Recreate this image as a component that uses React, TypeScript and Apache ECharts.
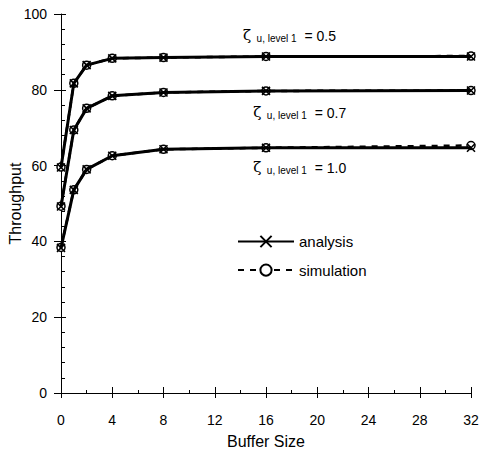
import React, { useEffect, useRef } from "react";
import * as echarts from "echarts";

const bufferSizes = [0, 1, 2, 4, 8, 16, 32];

const analysis05 = [59.5, 81.7, 86.5, 88.3, 88.5, 88.8, 88.8];
const analysis07 = [49.2, 69.4, 75.1, 78.4, 79.3, 79.7, 79.8];
const analysis10 = [38.3, 53.6, 59.0, 62.6, 64.3, 64.7, 64.7];

const simulation05 = [59.6, 81.7, 86.5, 88.3, 88.5, 88.8, 88.9];
const simulation07 = [49.3, 69.4, 75.1, 78.4, 79.3, 79.7, 79.8];
const simulation10 = [38.4, 53.6, 59.0, 62.6, 64.3, 64.7, 65.3];

const zetaValues = ["0.5", "0.7", "1.0"];

const FONT = "Liberation Sans, Arial, sans-serif";
const CROSS = "path://M0,0L10,10M10,0L0,10";
const RING = "path://M0,5A5,5 0 1,1 10,5A5,5 0 1,1 0,5Z";

function pairs(vals: number[]) {
  return bufferSizes.map((x, i) => [x, vals[i]]);
}

export default function App() {
  const ref = useRef<HTMLDivElement>(null);
  useEffect(() => {
    if (!ref.current) return;
    const chart = echarts.init(ref.current, undefined, { renderer: "svg" });

    const labelAnchors = [
      [14.2, 94.2],
      [15.0, 74.0],
      [15.0, 59.4],
    ];

    const richLabel = (z: string) => ({
      show: true,
      position: "inside",
      align: "left",
      verticalAlign: "middle",
      formatter: `{z|ζ}{s|  u, level 1}{n|  = ${z}}`,
      rich: {
        z: { fontSize: 15, fontFamily: "DejaVu Serif, serif", color: "#000", padding: [0, 0, 2, 0] },
        s: { fontSize: 10, fontFamily: FONT, color: "#000", padding: [5, 0, 0, 0] },
        n: { fontSize: 14, fontFamily: FONT, color: "#000" },
      },
    });

    const simSeries = [simulation05, simulation07, simulation10].map((d) => ({
      type: "line",
      name: "simulation",
      data: pairs(d),
      symbol: RING,
      symbolSize: 8,
      lineStyle: { color: "#000", width: 2.5, type: [6, 6] },
      itemStyle: { color: "#fff", borderColor: "#000", borderWidth: 1.5 },
      z: 2,
    }));

    const anaSeries = [analysis05, analysis07, analysis10].map((d, i) => ({
      type: "line",
      name: "analysis",
      data: pairs(d),
      symbol: CROSS,
      symbolSize: 8,
      lineStyle: { color: "#000", width: 3 },
      itemStyle: { color: "#000", borderColor: "#000", borderWidth: 1.6 },
      z: 3,
      markPoint: {
        symbol: "circle",
        symbolSize: 0,
        silent: true,
        data: [{ coord: labelAnchors[i], label: richLabel(zetaValues[i]) }],
      },
    }));

    const option: any = {
      animation: false,
      backgroundColor: "#fff",
      grid: { left: 61, right: 10, top: 14, bottom: 62, outerBoundsMode: "none", containLabel: false },
      legend: {
        data: ["analysis", "simulation"],
        orient: "vertical",
        left: 232,
        top: 229,
        itemWidth: 56,
        itemHeight: 14,
        itemGap: 13.6,
        textStyle: { fontFamily: FONT, fontSize: 15, color: "#000" },
      },
      xAxis: [
        {
          type: "value",
          min: 0,
          max: 32,
          interval: 4,
          position: "bottom",
          name: "Buffer Size",
          nameLocation: "middle",
          nameGap: 40,
          nameMoveOverlap: false,
          nameTextStyle: { fontFamily: FONT, fontSize: 16, color: "#000" },
          axisLine: { show: true, lineStyle: { color: "#000", width: 1 } },
          axisTick: { show: true, inside: false, length: 5, lineStyle: { color: "#000" } },
          axisLabel: { fontFamily: FONT, fontSize: 14, color: "#000", margin: 20 },
          splitLine: { show: false },
        },
        {
          type: "value",
          min: 0,
          max: 32,
          interval: 4,
          position: "bottom",
          axisLine: { show: false },
          axisTick: { show: true, inside: true, length: 6, lineStyle: { color: "#000" } },
          minorTick: { show: true, splitNumber: 2, length: 3, lineStyle: { color: "#000" } },
          axisLabel: { show: false },
          splitLine: { show: false },
        },
      ],
      yAxis: [
        {
          type: "value",
          min: 0,
          max: 100,
          interval: 20,
          position: "left",
          name: "Throughput",
          nameLocation: "middle",
          nameGap: 38,
          nameMoveOverlap: false,
          nameTextStyle: { fontFamily: FONT, fontSize: 16, color: "#000" },
          axisLine: { show: true, lineStyle: { color: "#000", width: 1 } },
          axisTick: { show: true, inside: false, length: 7, lineStyle: { color: "#000" } },
          axisLabel: { fontFamily: FONT, fontSize: 14, color: "#000", margin: 14 },
          splitLine: { show: false },
        },
        {
          type: "value",
          min: 0,
          max: 100,
          interval: 20,
          position: "left",
          axisLine: { show: false },
          axisTick: { show: true, inside: true, length: 5, lineStyle: { color: "#000" } },
          minorTick: { show: true, splitNumber: 5, length: 4, lineStyle: { color: "#000" } },
          axisLabel: { show: false },
          splitLine: { show: false },
        },
      ],
      series: [...simSeries, ...anaSeries],
    };
    chart.setOption(option);
    return () => chart.dispose();
  }, []);

  return (
    <div
      ref={ref}
      style={{ position: "absolute", left: 0, top: 0, width: 481, height: 455 }}
    />
  );
}
